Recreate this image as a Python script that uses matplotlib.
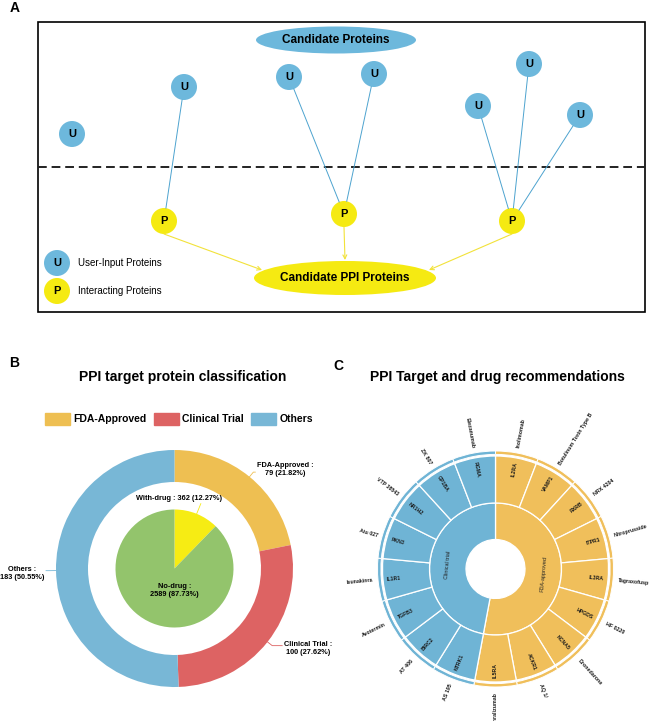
import matplotlib
matplotlib.use('Agg')
import matplotlib.pyplot as plt
from matplotlib.patches import Ellipse, Rectangle, Circle, Patch
import numpy as np

plt.rcParams['font.family'] = ['Liberation Sans', 'DejaVu Sans']

# ---------------- data ----------------
# Panel B
outer_labels = ['FDA-Approved', 'Clinical Trial', 'Others']
outer_counts = [79, 100, 183]
inner_labels = ['With-drug', 'No-drug']
inner_counts = [362, 2589]

# Panel C
fda_genes = ['IL2RA', 'VAMP1', 'RXRB', 'ITPR1', 'IL3RA', 'HPGDS', 'KCNA5', 'ACKR1', 'IL5RA']
fda_drugs = ['Inolimomab', 'Botulinum Toxin Type B', 'NRX 4204', 'Nitroprusside',
             'Tagraxofusp', 'HF 0220', 'Dronedarone', 'AQ 1/', 'Benralizumab']
trial_genes = ['NTRK1', 'BIRC2', 'TGFB3', 'IL1R1', 'PKN3', 'NR1H2', 'GP1BA', 'RGMA']
trial_drugs = ['AS 195', 'AT 406', 'Avotermin', 'Isunakinra', 'Atu 027',
               'VTP 38543', 'ZK 807', 'Elezanumab']
groups = ['FDA-approved', 'Clinical trial']

# ---------------- figure ----------------
W, H = 650, 721
fig = plt.figure(figsize=(W / 100, H / 100), dpi=100)
bg = fig.add_axes([0, 0, 1, 1])
bg.set_xlim(0, W)
bg.set_ylim(H, 0)
bg.axis('off')

U_COL = '#6DB8DC'
P_COL = '#F5EA12'
LINE_BLUE = '#4DA3CF'

# ---------------- Panel A ----------------
bg.text(15, 8, 'A', fontsize=10, fontweight='bold', ha='center', va='center')
bg.add_patch(Rectangle((38, 22), 607, 290, fill=False, ec='black', lw=1.2))
bg.plot([38, 645], [167, 167], color='#222222', lw=1.4, ls=(0, (4.5, 2.5)))

bg.add_patch(Ellipse((336, 40), 160, 27, color=U_COL, lw=0))
bg.text(336, 40, 'Candidate Proteins', fontsize=8.5, fontweight='bold',
        ha='center', va='center')

bg.add_patch(Ellipse((345, 278), 182, 34, color=P_COL, lw=0))
bg.text(345, 278, 'Candidate PPI Proteins', fontsize=8.5, fontweight='bold',
        ha='center', va='center')

U_nodes = [(72, 134), (184, 87), (289, 77), (374, 74), (529, 64), (478, 106), (580, 115)]
P_nodes = [(164, 221), (344, 214), (512, 221)]
edges = [(1, 0), (2, 1), (3, 1), (4, 2), (5, 2), (6, 2)]
R_NODE = 13

for ui, pi in edges:
    u = np.array(U_nodes[ui], float)
    p = np.array(P_nodes[pi], float)
    d = (p - u) / np.linalg.norm(p - u)
    a = u + d * R_NODE
    b = p - d * R_NODE
    bg.plot([a[0], b[0]], [a[1], b[1]], color=LINE_BLUE, lw=0.7)

for (x, y) in U_nodes:
    bg.add_patch(Circle((x, y), R_NODE, color=U_COL, lw=0))
    bg.text(x, y, 'U', fontsize=8, fontweight='bold', ha='center', va='center')

targets = [(262, 270), (345, 260), (429, 270)]
for (x, y), (tx, ty) in zip(P_nodes, targets):
    bg.annotate('', xy=(tx, ty), xytext=(x, y + R_NODE),
                arrowprops=dict(arrowstyle='->', color='#F2E23A', lw=0.8,
                                shrinkA=0, shrinkB=0, mutation_scale=7))
for (x, y) in P_nodes:
    bg.add_patch(Circle((x, y), R_NODE, color=P_COL, lw=0))
    bg.text(x, y, 'P', fontsize=8, fontweight='bold', ha='center', va='center')

bg.add_patch(Circle((57, 263), R_NODE, color=U_COL, lw=0))
bg.text(57, 263, 'U', fontsize=8, fontweight='bold', ha='center', va='center')
bg.text(78, 263, 'User-Input Proteins', fontsize=7, ha='left', va='center')
bg.add_patch(Circle((57, 291), R_NODE, color=P_COL, lw=0))
bg.text(57, 291, 'P', fontsize=8, fontweight='bold', ha='center', va='center')
bg.text(78, 291, 'Interacting Proteins', fontsize=7, ha='left', va='center')


def px_axes(cx, cy, half):
    ax = fig.add_axes([(cx - half) / W, 1 - (cy + half) / H, 2 * half / W, 2 * half / H])
    return ax


# ---------------- Panel B ----------------
bg.text(14, 363, 'B', fontsize=10, fontweight='bold', ha='center', va='center')
bg.text(183, 377, 'PPI target protein classification', fontsize=10,
        fontweight='bold', ha='center', va='center')

B_OUT = ['#EEBF52', '#DD6363', '#78B7D6']
B_IN = ['#F6EC14', '#93C46C']
cxB, cyB, halfB = 174.5, 568.5, 180
RB = 118.5
axB = px_axes(cxB, cyB, halfB)
wo, _ = axB.pie(outer_counts, radius=RB, colors=B_OUT, startangle=90,
                counterclock=False, wedgeprops=dict(width=32, lw=0))
wi, _ = axB.pie(inner_counts, radius=59, colors=B_IN, startangle=90,
                counterclock=False, wedgeprops=dict(lw=0))
axB.set_xlim(-halfB, halfB)
axB.set_ylim(-halfB, halfB)
axB.axis('off')

tot_o = sum(outer_counts)
lab_fs = 5.3
hseg = [2, 10, 4]
for w, lab, c, col, hs in zip(wo, outer_labels, outer_counts, B_OUT, hseg):
    mid = np.deg2rad((w.theta1 + w.theta2) / 2)
    ux, uy = np.cos(mid), np.sin(mid)
    p0 = np.array([ux, uy]) * RB
    p1 = np.array([ux, uy]) * (RB + 6)
    side = 1 if ux > 0.05 else -1
    p2 = p1 + np.array([side * hs, 0])
    axB.plot([p0[0], p1[0], p2[0]], [p0[1], p1[1], p2[1]], color=col, lw=0.6)
    dy = 3 if uy > 0.05 else -3
    axB.text(p2[0] + side * 1.5, p2[1] + dy, f'{lab} :\n{c} ({100 * c / tot_o:.2f}%)',
             fontsize=lab_fs, fontweight='bold', ha='left' if side > 0 else 'right',
             va='center', multialignment='center', linespacing=1.15)

tot_i = sum(inner_counts)
# With-drug label (outside, above)
w = wi[0]
mid = np.deg2rad((w.theta1 + w.theta2) / 2)
p0 = np.array([np.cos(mid), np.sin(mid)]) * 59
p1 = np.array([np.cos(mid), np.sin(mid)]) * 70
axB.plot([p0[0], p1[0]], [p0[1], p1[1]], color=B_IN[0], lw=0.6)
axB.text(p1[0] - 22, p1[1] + 2,
         f'{inner_labels[0]} : {inner_counts[0]} ({100 * inner_counts[0] / tot_i:.2f}%)',
         fontsize=lab_fs, fontweight='bold', ha='center', va='bottom')
axB.text(0, -22, f'{inner_labels[1]} :\n{inner_counts[1]} ({100 * inner_counts[1] / tot_i:.2f}%)',
         fontsize=lab_fs, fontweight='bold', ha='center', va='center',
         multialignment='center', linespacing=1.15)

handles = [Patch(color=c) for c in B_OUT]
fig.legend(handles, outer_labels, loc='center', bbox_to_anchor=(179 / W, 1 - 419 / H),
           ncol=3, frameon=False, prop=dict(size=7.5, weight='bold'),
           handlelength=2.4, handleheight=1.45, handletextpad=0.3,
           columnspacing=0.7, borderpad=0, borderaxespad=0)

# ---------------- Panel C ----------------
bg.text(338, 366, 'C', fontsize=10, fontweight='bold', ha='center', va='center')
bg.text(497, 377, 'PPI Target and drug recommendations', fontsize=10,
        fontweight='bold', ha='center', va='center')

C_COL = ['#F0BF5B', '#6FB4D5']
cxC, cyC, halfC = 495.5, 569, 160
RC = 113
axC = px_axes(cxC, cyC, halfC)

genes = fda_genes + trial_genes
drugs = fda_drugs + trial_drugs
leaf_cols = [C_COL[0]] * len(fda_genes) + [C_COL[1]] * len(trial_genes)

wg, _ = axC.pie([len(fda_genes), len(trial_genes)], radius=66, colors=C_COL,
                startangle=90, counterclock=False,
                wedgeprops=dict(width=36.5, ec='white', lw=0.9))
wl, _ = axC.pie([1] * len(genes), radius=RC, colors=leaf_cols, startangle=90,
                counterclock=False, wedgeprops=dict(width=47, ec='white', lw=0.9))
wd, _ = axC.pie([1] * len(drugs), radius=RC + 5, colors=leaf_cols, startangle=90,
                counterclock=False, wedgeprops=dict(width=3.4, ec='white', lw=0.7))
axC.set_xlim(-halfC, halfC)
axC.set_ylim(-halfC, halfC)
axC.axis('off')

for w, g in zip(wg, groups):
    mid = (w.theta1 + w.theta2) / 2
    r = np.deg2rad(mid)
    rot = mid + 90 if np.sin(r) < 0 else mid - 90
    axC.text(48 * np.cos(r), 48 * np.sin(r), g, fontsize=4.0, rotation=rot,
             ha='center', va='center', rotation_mode='anchor', color='#222222')

for w, g, d in zip(wl, genes, drugs):
    mid = (w.theta1 + w.theta2) / 2
    r = np.deg2rad(mid)
    right = np.cos(r) > 0.01
    rot = mid if right else mid + 180
    axC.text(109 * np.cos(r), 109 * np.sin(r), g, fontsize=3.7, fontweight='bold',
             rotation=rot, rotation_mode='anchor', va='center',
             ha='right' if right else 'left', color='#1a1a1a')
    axC.text(123 * np.cos(r), 123 * np.sin(r), d, fontsize=3.8, fontweight='bold',
             rotation=rot, rotation_mode='anchor', va='center',
             ha='left' if right else 'right', color='#1a1a1a')

fig.savefig('out.png', dpi=100)
